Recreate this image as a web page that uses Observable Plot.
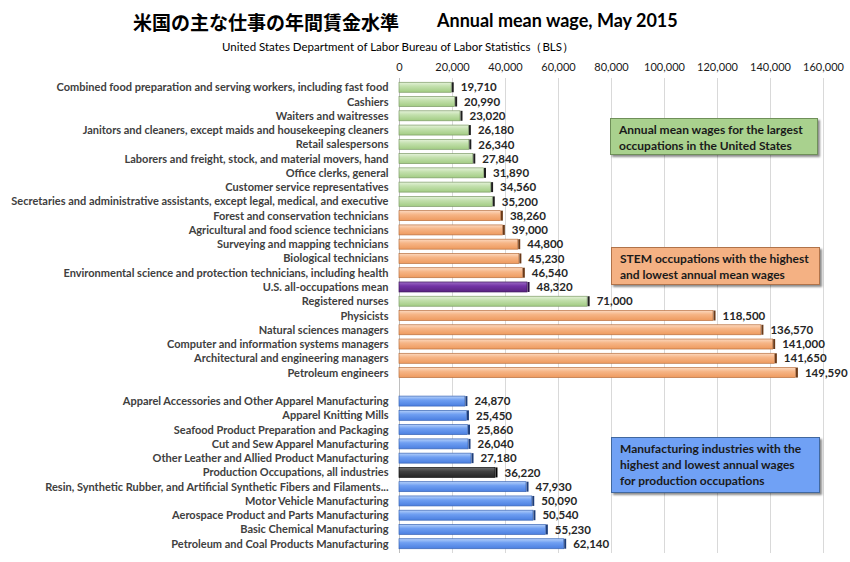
<!DOCTYPE html>
<html><head><meta charset="utf-8">
<script src="https://cdn.jsdelivr.net/npm/d3@7"></script>
<script src="https://cdn.jsdelivr.net/npm/@observablehq/plot@0.6"></script>
<style>
body{margin:0;background:#fff;}
#wrap{position:relative;width:850px;height:562px;font-family:Lato,"Noto Sans",sans-serif;}
.t{position:absolute;white-space:nowrap;color:#000;}
.box{position:absolute;box-sizing:border-box;font-weight:bold;font-size:12px;line-height:16px;padding:3px 8px;color:#1a1a1a;box-shadow:2px 2px 2px rgba(0,0,0,0.45);white-space:nowrap;}
</style></head><body>
<div id="wrap">
  <div class="t" style="left:133px;top:8px;font-family:'Noto Sans CJK JP';font-weight:bold;font-size:19px;">米国の主な仕事の年間賃金水準</div>
  <div class="t" style="left:437px;top:9px;font-weight:bold;font-size:18px;">Annual mean wage, May 2015</div>
  <div class="t" style="left:222px;top:40px;font-size:11.5px;">United States Department of Labor Bureau of Labor Statistics（BLS）</div>
</div>
<script>
// ---- data ----
const occupations = [
  "Combined food preparation and serving workers, including fast food",
  "Cashiers",
  "Waiters and waitresses",
  "Janitors and cleaners, except maids and housekeeping cleaners",
  "Retail salespersons",
  "Laborers and freight, stock, and material movers, hand",
  "Office clerks, general",
  "Customer service representatives",
  "Secretaries and administrative assistants, except legal, medical, and executive",
  "Forest and conservation technicians",
  "Agricultural and food science technicians",
  "Surveying and mapping technicians",
  "Biological technicians",
  "Environmental science and protection technicians, including health",
  "U.S. all-occupations mean",
  "Registered nurses",
  "Physicists",
  "Natural sciences managers",
  "Computer and information systems managers",
  "Architectural and engineering managers",
  "Petroleum engineers"
];
const occupationWages = [19710, 20990, 23020, 26180, 26340, 27840, 31890, 34560, 35200,
  38260, 39000, 44800, 45230, 46540, 48320, 71000, 118500, 136570, 141000, 141650, 149590];
const occupationGroups = ["largest","largest","largest","largest","largest","largest","largest","largest","largest",
  "stem","stem","stem","stem","stem","mean","largest","stem","stem","stem","stem","stem"];

const industries = [
  "Apparel Accessories and Other Apparel Manufacturing",
  "Apparel Knitting Mills",
  "Seafood Product Preparation and Packaging",
  "Cut and Sew Apparel Manufacturing",
  "Other Leather and Allied Product Manufacturing",
  "Production Occupations, all industries",
  "Resin, Synthetic Rubber, and Artificial Synthetic Fibers and Filaments...",
  "Motor Vehicle Manufacturing",
  "Aerospace Product and Parts Manufacturing",
  "Basic Chemical Manufacturing",
  "Petroleum and Coal Products Manufacturing"
];
const industryWages = [24870, 25450, 25860, 26040, 27180, 36220, 47930, 50090, 50540, 55230, 62140];
const industryGroups = ["industry","industry","industry","industry","industry","production","industry","industry","industry","industry","industry"];

const xTicks = [0, 20000, 40000, 60000, 80000, 100000, 120000, 140000, 160000];
const separator = "__gap__";

// ---- build ----
const rows = [
  ...occupations.map((name, i) => ({name, value: occupationWages[i], group: occupationGroups[i]})),
  ...industries.map((name, i) => ({name, value: industryWages[i], group: industryGroups[i]}))
];
const order = [...occupations, separator, ...industries];

const palette = {
  largest:    {stops: ["#e4f2d9", "#c3e0ad", "#a2cc83"], edge: "#7d9b66", side: "#1f1f1f"},
  stem:       {stops: ["#fcd9bf", "#f6b586", "#ee9a5e"], edge: "#b8703f", side: "#6b3a18"},
  mean:       {stops: ["#9c6cc4", "#7334a6", "#58237f"], edge: "#3c165a", side: "#2a0f40"},
  production: {stops: ["#6e6e6e", "#404040", "#262626"], edge: "#111111", side: "#000000"},
  industry:   {stops: ["#b4d0fa", "#6f9ff2", "#4b7fe0"], edge: "#3b66b5", side: "#1d3d7a"}
};
const fmt = d3.format(",");

const barMarks = [];
for (const g of Object.keys(palette)) {
  const sub = rows.filter(d => d.group === g);
  barMarks.push(Plot.barX(sub, {x: "value", y: "name", fill: `url(#grad-${g})`, stroke: palette[g].edge, strokeWidth: 0.7}));
  barMarks.push(Plot.tickX(sub, {x: "value", y: "name", stroke: palette[g].side, strokeWidth: 2, dx: 1}));
}

const chart = Plot.plot({
  width: 850,
  height: 562,
  marginLeft: 399,
  marginRight: 27,
  marginTop: 78,
  marginBottom: 9,
  style: {fontFamily: "Lato, 'Noto Sans', sans-serif", background: "transparent"},
  x: {domain: [0, 160000]},
  y: {domain: order, padding: 0.3, round: false},
  marks: [
    Plot.gridX(xTicks, {stroke: "#d9d9d9", strokeOpacity: 1}),
    Plot.ruleX([0], {stroke: "#bfbfbf"}),
    Plot.axisX({anchor: "top", ticks: xTicks, tickFormat: fmt, tickSize: 0, tickPadding: 8, label: null, fontSize: 11, fill: "#1a1a1a"}),
    Plot.axisY({tickSize: 0, tickPadding: 11, label: null, fontSize: 11, fontWeight: "bold", fill: "#404040",
      tickFormat: d => d === separator ? "" : d}),
    ...barMarks,
    Plot.text(rows, {x: "value", y: "name", text: d => fmt(d.value), textAnchor: "start", dx: 9,
      fontSize: 11.5, fontWeight: "bold", fill: "#262626"})
  ]
});

const svgNS = "http://www.w3.org/2000/svg";
const defs = document.createElementNS(svgNS, "defs");
defs.innerHTML = Object.entries(palette).map(([g, p]) =>
  `<linearGradient id="grad-${g}" x1="0" y1="0" x2="0" y2="1">
     <stop offset="0" stop-color="${p.stops[0]}"/>
     <stop offset="0.4" stop-color="${p.stops[1]}"/>
     <stop offset="1" stop-color="${p.stops[2]}"/>
   </linearGradient>`).join("");
chart.insertBefore(defs, chart.firstChild);
chart.style.position = "absolute";
chart.style.left = "0";
chart.style.top = "0";

const wrap = document.getElementById("wrap");
wrap.insertBefore(chart, wrap.firstChild);

// annotation boxes
const boxes = [
  {text: "Annual mean wages for the largest<br>occupations in the United States", left: 610, top: 118, w: 208, h: 37, fill: "#a9d18e", border: "#6f8f59"},
  {text: "STEM occupations with the highest<br>and lowest annual mean wages", left: 611, top: 247, w: 209, h: 38, fill: "#f4b183", border: "#b0734a"},
  {text: "Manufacturing industries with the<br>highest and lowest annual wages<br>for production occupations", left: 611, top: 437, w: 209, h: 56, fill: "#70a1f5", border: "#41689f"}
];
for (const b of boxes) {
  const el = document.createElement("div");
  el.className = "box";
  el.innerHTML = b.text;
  Object.assign(el.style, {left: b.left + "px", top: b.top + "px", width: b.w + "px", height: b.h + "px",
    background: b.fill, border: `1px solid ${b.border}`});
  wrap.appendChild(el);
}
</script>
</body></html>
